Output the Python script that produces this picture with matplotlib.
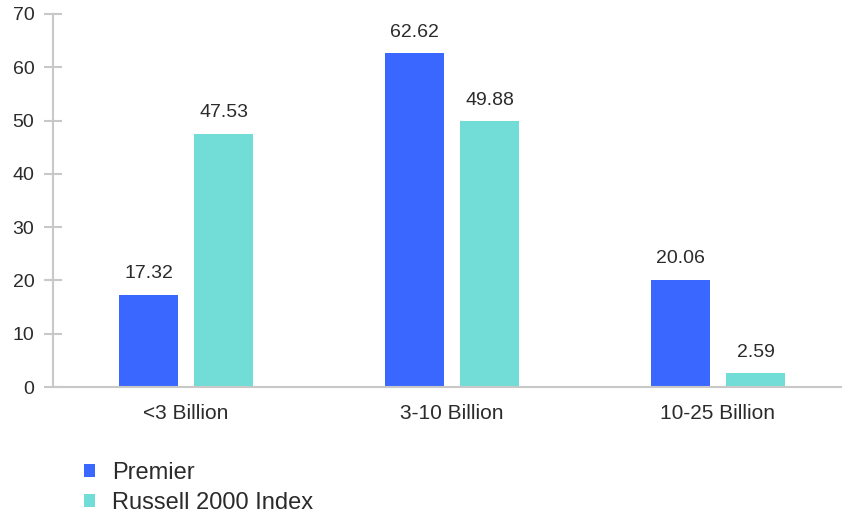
import matplotlib.pyplot as plt
import numpy as np

categories = ["<3 Billion", "3-10 Billion", "10-25 Billion"]
premier = [17.32, 62.62, 20.06]
russell = [47.53, 49.88, 2.59]
series_names = ["Premier", "Russell 2000 Index"]
yticks = [0, 10, 20, 30, 40, 50, 60, 70]

BLUE = "#3A67FF"
TEAL = "#72DDD6"
GRID = "#c8c8c8"
TXT = "#2b2b2b"

plt.rcParams['font.family'] = ['Liberation Sans', 'DejaVu Sans']

fig = plt.figure(figsize=(8.42, 5.13), dpi=100)
W, H = 842, 513
left, right, top, bottom = 53, 851, 14, 387
ax = fig.add_axes([left / W, 1 - bottom / H, (right - left) / W, (bottom - top) / H])

x = np.arange(len(categories))
bw = 0.222
off = 0.141
b1 = ax.bar(x - off, premier, bw, color=BLUE, label=series_names[0])
b2 = ax.bar(x + off, russell, bw, color=TEAL, label=series_names[1])

# value labels above each bar
for bars, vals in [(b1, premier), (b2, russell)]:
    for b, v in zip(bars, vals):
        ax.annotate(f"{v:.2f}", (b.get_x() + b.get_width() / 2, v),
                    xytext=(0, 12), textcoords="offset points",
                    ha="center", va="baseline", fontsize=14, color=TXT)

ax.set_xlim(-0.5, 2.5)
ax.set_ylim(0, 70)
ax.set_yticks(yticks)
ax.set_xticks(x)
ax.set_xticklabels(categories, fontsize=15, color=TXT)
ax.tick_params(axis="y", direction="inout", length=13, width=1.5, color=GRID,
               labelsize=14, labelcolor=TXT, pad=7)
ax.tick_params(axis="x", length=0, pad=12)

for s in ["top", "right"]:
    ax.spines[s].set_visible(False)
for s in ["left", "bottom"]:
    ax.spines[s].set_color(GRID)
    ax.spines[s].set_linewidth(1.5)

ax.legend(loc="upper left", bbox_to_anchor=(84 / W, 1 - 462 / H),
          bbox_transform=fig.transFigure, frameon=False, fontsize=17,
          handlelength=0.45, handleheight=0.45, handletextpad=0.75,
          labelspacing=0.33, borderaxespad=0, borderpad=0, labelcolor=TXT)

fig.savefig("out.png", dpi=100)
